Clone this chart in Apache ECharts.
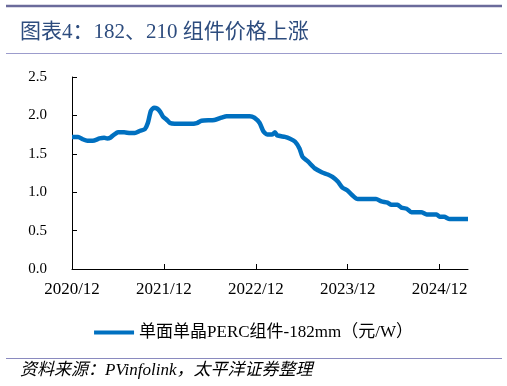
<!DOCTYPE html>
<html>
<head>
<meta charset="utf-8">
<script src="https://cdn.jsdelivr.net/npm/echarts@6/dist/echarts.min.js"></script>
<style>
html, body { margin: 0; padding: 0; background: #fff; }
#chart { width: 507px; height: 386px; }
</style>
</head>
<body>
<div id="chart"></div>
<script>
// x = months counted from 2020/12
const months = [0, 0.8, 1.4, 2.0, 2.7, 3.6, 4.2, 4.6, 5.0, 5.5, 6.0, 6.8, 7.6, 8.2, 8.9,
  9.5, 9.9, 10.3, 10.7, 11.1, 11.5, 11.9, 12.3, 12.8, 13.4, 15.4, 16.3, 16.9, 18.6, 19.5,
  20.2, 23.2, 23.8, 24.5, 25.0, 25.5, 26.1, 26.5, 26.8, 27.8, 28.4, 29.1, 29.7, 30.1, 30.8,
  31.7, 32.6, 33.4, 34.0, 34.7, 35.3, 36.0, 36.6, 37.3, 39.7, 40.4, 41.2, 41.7, 42.5, 43.0,
  43.7, 44.3, 45.6, 46.3, 47.6, 48.0, 48.6, 49.3, 51.7];
const prices = [1.72, 1.72, 1.69, 1.67, 1.67, 1.70, 1.71, 1.70, 1.71, 1.75, 1.78, 1.78, 1.77, 1.77, 1.80,
  1.82, 1.90, 2.06, 2.10, 2.09, 2.05, 1.98, 1.95, 1.90, 1.89, 1.89, 1.90, 1.93, 1.94, 1.97,
  1.99, 1.99, 1.97, 1.90, 1.79, 1.75, 1.75, 1.78, 1.74, 1.72, 1.70, 1.66, 1.57, 1.46, 1.40,
  1.31, 1.26, 1.23, 1.20, 1.14, 1.06, 1.02, 0.96, 0.91, 0.91, 0.88, 0.865, 0.835, 0.835, 0.80,
  0.785, 0.74, 0.74, 0.71, 0.71, 0.68, 0.68, 0.65, 0.65];
const tickMonths = [0, 12, 24, 36, 48];
const tickLabels = ['2020/12', '2021/12', '2022/12', '2023/12', '2024/12'];
const seriesName = '单面单晶PERC组件-182mm（元/W）';

const FONT = "'Liberation Serif', 'Noto Sans CJK SC', serif";

const chart = echarts.init(document.getElementById('chart'));

const option = {
  animation: false,
  textStyle: { fontFamily: FONT, color: '#000' },
  grid: { left: 72, right: 39, top: 77, bottom: 117 },
  graphic: [
    { type: 'line', shape: { x1: 6, y1: 6, x2: 502, y2: 6 }, style: { stroke: '#6b6b9b', lineWidth: 2.5 } },
    { type: 'line', shape: { x1: 6, y1: 53.5, x2: 502, y2: 53.5 }, style: { stroke: '#9c9ccc', lineWidth: 1 } },
    { type: 'line', shape: { x1: 6, y1: 358.5, x2: 502, y2: 358.5 }, style: { stroke: '#8a8abf', lineWidth: 1 } },
    {
      type: 'text', left: 20, top: 22,
      style: { text: '图表4：182、210 组件价格上涨', font: "21px " + FONT, fill: '#2d4c7e' }
    },
    {
      type: 'text', left: 20, top: 362,
      style: { text: '资料来源：PVinfolink，太平洋证券整理', font: "italic 17px " + FONT, fill: '#000' }
    }
  ],
  legend: {
    left: 'center',
    top: 319,
    icon: 'rect',
    itemWidth: 40,
    itemHeight: 4,
    itemGap: 10,
    textStyle: { fontSize: 17, fontFamily: FONT, color: '#000' },
    data: [seriesName]
  },
  xAxis: {
    type: 'value',
    min: 0,
    max: 51.7,
    axisLine: { lineStyle: { color: '#000', width: 1 } },
    axisTick: { inside: true, length: 5, customValues: tickMonths, lineStyle: { color: '#000' } },
    axisLabel: {
      customValues: tickMonths,
      margin: 12,
      fontSize: 17,
      color: '#000',
      formatter: function (v) {
        const i = tickMonths.indexOf(Math.round(v));
        return i >= 0 ? tickLabels[i] : '';
      }
    },
    splitLine: { show: false }
  },
  yAxis: {
    type: 'value',
    min: 0,
    max: 2.5,
    interval: 0.5,
    axisLine: { show: true, lineStyle: { color: '#000', width: 1 } },
    axisTick: { show: true, inside: true, length: 5, lineStyle: { color: '#000' } },
    axisLabel: {
      margin: 25,
      fontSize: 15,
      color: '#000',
      formatter: function (v) { return v.toFixed(1); }
    },
    splitLine: { show: false }
  },
  series: [
    {
      name: seriesName,
      type: 'line',
      data: months.map(function (m, i) { return [m, prices[i]]; }),
      symbol: 'none',
      smooth: 0.2,
      color: '#0070c0',
      lineStyle: { width: 4.5, color: '#0070c0' }
    }
  ]
};

chart.setOption(option);
</script>
</body>
</html>
